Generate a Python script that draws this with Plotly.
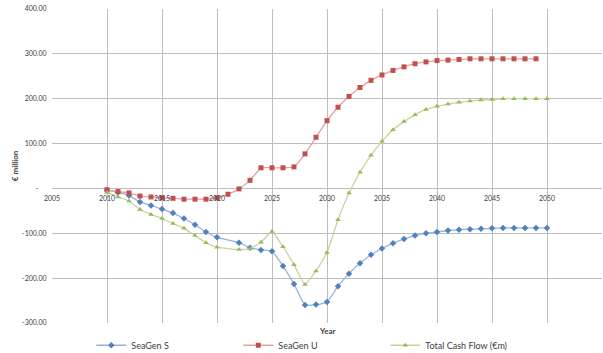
import plotly.graph_objects as go

# ---- data ----
years_full = list(range(2010, 2051))
years_u = list(range(2010, 2050))

years_s = [y for y in years_full if y != 2021]
seagen_s = [-4, -9, -16, -30, -38, -46, -55, -67, -81, -97, -109,
            -121, -132, -137, -140, -173, -213, -260, -259, -253,
            -218, -190, -167, -148, -134, -122, -113, -105, -100, -97,
            -94, -92, -91, -90, -89, -88, -88, -88, -88, -88]

seagen_u = [-3, -7, -10, -17, -19, -21, -22, -24, -24, -24, -21,
            -13, -1, 18, 46, 46, 46, 48, 77, 114, 151,
            181, 205, 225, 241, 253, 263, 271, 278, 282, 285,
            286, 287.5, 289, 289, 289, 289, 289, 289, 289]

years_t = [y for y in years_full if y != 2021]
total_cf = [-9, -19, -28, -47, -58, -67, -78, -89, -105, -121, -131,
            -136, -134, -120, -96, -130, -170, -214, -184, -143,
            -70, -10, 36, 74, 105, 131, 149, 164, 176, 183,
            188, 192, 195, 197, 198, 200, 200, 200, 200, 200]

y_ticks = [-300, -200, -100, 0, 100, 200, 300, 400]
y_ticktext = ["-300.00", "-200.00", "-100.00", "-\u2007\u2007", "100.00", "200.00", "300.00", "400.00"]
x_ticks = list(range(2005, 2056, 5))

FONT = "Lato"
GRID = "#bdbdbd"

fig = go.Figure()
fig.add_trace(go.Scatter(
    x=years_s, y=seagen_s, name="SeaGen S", mode="lines+markers",
    line=dict(color="#95b3d7", width=1.3, shape="spline", smoothing=0.4),
    marker=dict(symbol="diamond", size=5, color="#4f81bd")))
fig.add_trace(go.Scatter(
    x=years_u, y=seagen_u, name="SeaGen U", mode="lines+markers",
    line=dict(color="#e6a0a0", width=1.3, shape="spline", smoothing=0.4),
    marker=dict(symbol="square", size=5, color="#c0504d")))
fig.add_trace(go.Scatter(
    x=years_t, y=total_cf, name="Total Cash Flow (€m)", mode="lines+markers",
    line=dict(color="#c3d69b", width=1.3, shape="spline", smoothing=0.4),
    marker=dict(symbol="triangle-up", size=5, color="#9bbb59")))

fig.update_layout(
    width=603, height=353,
    margin=dict(l=52, r=1, t=9, b=30, autoexpand=False),
    paper_bgcolor="white", plot_bgcolor="white",
    font=dict(family=FONT, color="#404040"),
    showlegend=True,
    legend=dict(orientation="h", x=0.0715, xanchor="left",
                yref="container", y=0.022, yanchor="middle",
                font=dict(size=9, color="#404040"), entrywidth=102,
                itemwidth=30, bgcolor="rgba(0,0,0,0)"),
    xaxis=dict(range=[2005, 2055], tickmode="array", tickvals=x_ticks,
               showgrid=True, gridcolor=GRID, gridwidth=1,
               zeroline=False, showline=False, ticks="outside",
               ticklen=3, tickcolor="rgba(0,0,0,0)",
               anchor="free", position=3/7,
               tickfont=dict(size=7, color="#404040")),
    yaxis=dict(range=[-300, 400], tickmode="array", tickvals=y_ticks,
               ticktext=y_ticktext, showgrid=True, gridcolor=GRID, gridwidth=1,
               zeroline=False, showline=False, ticks="outside",
               ticklen=3, tickcolor="rgba(0,0,0,0)",
               tickfont=dict(size=7, color="#404040")),
    annotations=[
        dict(text="<b>Year</b>", x=0.5, y=0, xref="paper", yref="paper",
             xanchor="center", yanchor="top", yshift=-1, showarrow=False,
             font=dict(size=8, color="#404040")),
        dict(text="<b>€ million</b>", x=-0.067, y=0.5, xref="paper", yref="paper",
             xanchor="center", yanchor="middle", textangle=-90, showarrow=False,
             font=dict(size=8, color="#404040")),
    ],
)

fig.write_html("out.html")
